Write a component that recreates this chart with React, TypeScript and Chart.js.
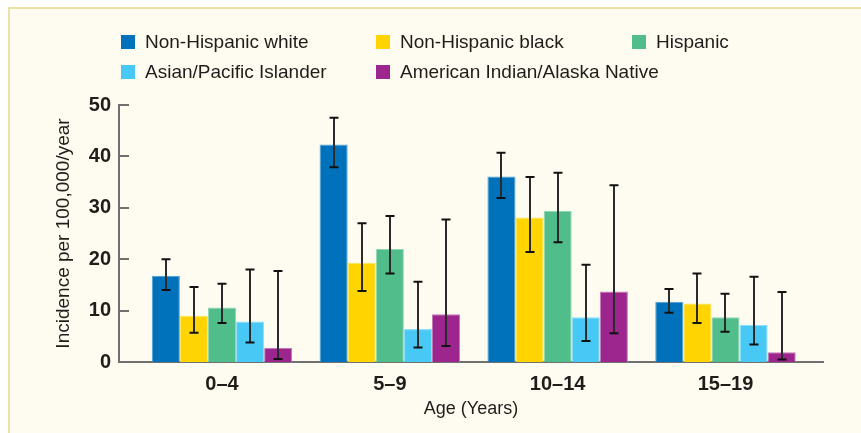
import React, { useEffect, useRef } from "react";
import { Chart, registerables } from "chart.js";

Chart.register(...registerables);

const ageGroups = ["0–4", "5–9", "10–14", "15–19"];
const seriesNames = [
  "Non-Hispanic white",
  "Non-Hispanic black",
  "Hispanic",
  "Asian/Pacific Islander",
  "American Indian/Alaska Native",
];
const seriesColors = ["#0072bc", "#ffd400", "#50bd8a", "#48c9f5", "#9c268d"];
const seriesEdge = ["#4aa0d8", "#ffe45a", "#8fd6b4", "#8fdcf8", "#c27ab8"];

const whiteRate = [16.8, 42.3, 36.1, 11.7];
const whiteLow = [14.0, 37.9, 31.9, 9.6];
const whiteHigh = [20.0, 47.5, 40.7, 14.2];

const blackRate = [9.0, 19.3, 28.1, 11.4];
const blackLow = [5.7, 13.8, 21.4, 7.6];
const blackHigh = [14.6, 27.0, 36.0, 17.2];

const hispanicRate = [10.6, 22.0, 29.4, 8.7];
const hispanicLow = [7.6, 17.2, 23.3, 5.9];
const hispanicHigh = [15.2, 28.4, 36.8, 13.3];

const asianRate = [7.9, 6.4, 8.7, 7.2];
const asianLow = [3.8, 2.8, 4.1, 3.4];
const asianHigh = [18.0, 15.6, 18.9, 16.6];

const aianRate = [2.7, 9.3, 13.7, 1.9];
const aianLow = [0.6, 3.1, 5.6, 0.5];
const aianHigh = [17.7, 27.7, 34.4, 13.6];

const rates = [whiteRate, blackRate, hispanicRate, asianRate, aianRate];
const lows = [whiteLow, blackLow, hispanicLow, asianLow, aianLow];
const highs = [whiteHigh, blackHigh, hispanicHigh, asianHigh, aianHigh];

const yMin = 0;
const yMax = 50;
const yStep = 10;

const FONT = "'Liberation Sans', Arial, Helvetica, sans-serif";
const AXIS_COLOR = "#707070";
const TEXT_COLOR = "#1f1d1a";

const errorBarPlugin = {
  id: "errorBars",
  afterDatasetsDraw(chart: any) {
    const ctx = chart.ctx;
    const y = chart.scales.y;
    chart.data.datasets.forEach((ds: any, di: number) => {
      const meta = chart.getDatasetMeta(di);
      meta.data.forEach((bar: any, i: number) => {
        const x = Math.round(bar.x);
        const yl = y.getPixelForValue(ds.errLow[i]);
        const yh = y.getPixelForValue(ds.errHigh[i]);
        ctx.save();
        ctx.strokeStyle = "#2b2b2b";
        ctx.lineWidth = 2;
        ctx.beginPath();
        ctx.moveTo(x, yh);
        ctx.lineTo(x, yl);
        ctx.stroke();
        ctx.strokeStyle = "#111111";
        ctx.beginPath();
        ctx.moveTo(x - 4.5, yh);
        ctx.lineTo(x + 4.5, yh);
        ctx.moveTo(x - 4.5, yl);
        ctx.lineTo(x + 4.5, yl);
        ctx.stroke();
        ctx.restore();
      });
    });
  },
};

const innerTickPlugin = {
  id: "innerTicks",
  afterDraw(chart: any) {
    const ctx = chart.ctx;
    const y = chart.scales.y;
    const left = chart.chartArea.left;
    ctx.save();
    ctx.strokeStyle = AXIS_COLOR;
    ctx.lineWidth = 2;
    y.ticks.forEach((t: any) => {
      if (t.value === yMin) return;
      const py = Math.round(y.getPixelForValue(t.value));
      ctx.beginPath();
      ctx.moveTo(left - 1, py);
      ctx.lineTo(left + 10, py);
      ctx.stroke();
    });
    ctx.restore();
  },
};

const legendPlugin = {
  id: "gridLegend",
  afterDraw(chart: any) {
    const ctx = chart.ctx;
    const colX = [121, 376, 632];
    const rowY = [35, 65];
    ctx.save();
    ctx.font = `19px ${FONT}`;
    ctx.textBaseline = "middle";
    ctx.textAlign = "left";
    chart.data.datasets.forEach((ds: any, i: number) => {
      const row = i < 3 ? 0 : 1;
      const col = i < 3 ? i : i - 3;
      const bx = colX[col];
      const by = rowY[row];
      ctx.fillStyle = ds.backgroundColor;
      ctx.fillRect(bx, by, 14, 14);
      ctx.fillStyle = TEXT_COLOR;
      ctx.fillText(ds.label, bx + 24, by + 8);
    });
    ctx.restore();
  },
};

export default function App() {
  const canvasRef = useRef<HTMLCanvasElement | null>(null);

  useEffect(() => {
    if (!canvasRef.current) return;
    Chart.defaults.font.family = FONT;
    const datasets = seriesNames.map((name, si) => ({
      label: name,
      data: rates[si].map((v, i) => ({ x: i, y: v })),
      errLow: lows[si],
      errHigh: highs[si],
      backgroundColor: seriesColors[si],
      borderColor: seriesEdge[si],
      borderWidth: 1,
      categoryPercentage: 0.837,
      barPercentage: 1,
    }));

    const chart = new Chart(canvasRef.current, {
      type: "bar",
      data: { datasets } as any,
      options: {
        animation: false,
        responsive: false,
        maintainAspectRatio: false,
        layout: { padding: { top: 105, right: 38, bottom: 0, left: 0 } },
        plugins: {
          legend: { display: false },
          tooltip: { enabled: false },
        },
        scales: {
          x: {
            type: "linear",
            offset: false,
            min: -0.6137,
            max: 3.581,
            grid: { display: false, drawTicks: false },
            border: { display: true, color: AXIS_COLOR, width: 2 },
            afterBuildTicks: (s: any) => {
              s.ticks = ageGroups.map((_, i) => ({ value: i }));
            },
            afterFit: (s: any) => {
              s.height = 71;
            },
            ticks: {
              autoSkip: false,
              maxRotation: 0,
              padding: 10,
              color: TEXT_COLOR,
              font: { size: 20, weight: "bold" },
              callback: (v: any) => ageGroups[v as number] ?? "",
            },
            title: {
              display: true,
              text: "Age (Years)",
              color: TEXT_COLOR,
              font: { size: 18 },
              padding: { top: 0, bottom: 13 },
            },
          },
          y: {
            min: yMin,
            max: yMax,
            grid: { display: false, drawTicks: false },
            border: { display: true, color: AXIS_COLOR, width: 2 },
            afterFit: (s: any) => {
              s.width = 119;
            },
            ticks: {
              stepSize: yStep,
              padding: 8,
              color: TEXT_COLOR,
              font: { size: 20, weight: "bold" },
            },
            title: {
              display: true,
              text: "Incidence per 100,000/year",
              color: TEXT_COLOR,
              font: { size: 19 },
              padding: { top: 52, bottom: 0 },
            },
          },
        },
      } as any,
      plugins: [errorBarPlugin, innerTickPlugin, legendPlugin],
    });
    return () => chart.destroy();
  }, []);

  return (
    <div
      style={{
        position: "fixed",
        left: 0,
        top: 0,
        width: 861,
        height: 433,
        background: "#ffffff",
        overflow: "hidden",
      }}
    >
      <div
        style={{
          position: "absolute",
          left: 8,
          top: 7,
          width: 861,
          height: 433,
          background: "#fefcf0",
          borderTop: "2px solid #ebe1a5",
          borderLeft: "2px solid #ebe1a5",
        }}
      />
      <canvas
        ref={canvasRef}
        width={861}
        height={433}
        style={{ position: "absolute", left: 0, top: 0, width: 861, height: 433 }}
      />
    </div>
  );
}
